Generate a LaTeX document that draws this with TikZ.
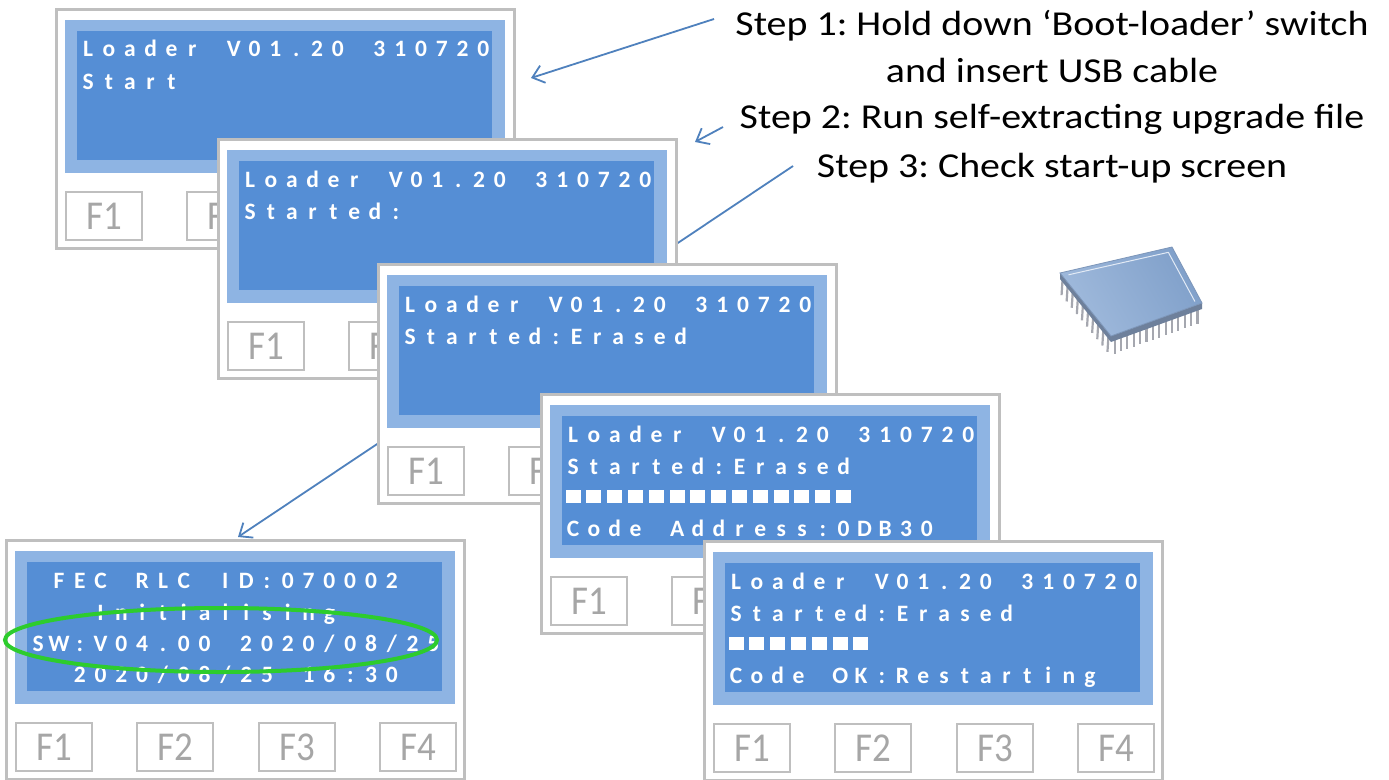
\documentclass[tikz,border=0pt]{standalone}
\usepackage{fontspec}
\setmainfont{Carlito}
\newfontfamily\lcdfont{Carlito}
\newfontfamily\stepfont{Carlito}[FakeStretch=1.14]
\newfontfamily\keyfont{Carlito}[FakeStretch=0.9]
\usetikzlibrary{arrows.meta,shapes.geometric,calc}
\frenchspacing

\definecolor{lcdDark}{RGB}{85,142,213}
\definecolor{lcdLight}{RGB}{142,180,227}
\definecolor{frameGray}{RGB}{191,191,191}
\definecolor{keyText}{RGB}{166,166,166}
\definecolor{arrowBlue}{RGB}{79,129,189}
\definecolor{ringGreen}{RGB}{45,204,45}
\definecolor{chipA}{RGB}{160,186,220}
\definecolor{chipB}{RGB}{128,160,202}
\definecolor{chipSide}{RGB}{110,128,155}
\definecolor{chipEdge}{RGB}{125,150,185}
\definecolor{pinGray}{RGB}{165,167,175}

% fixed-pitch character cells for the LCD rows (~ stands for a blank cell)
\newlength\lcdpitch
\setlength\lcdpitch{20.8pt}
\def\lcdstop{LCDSTOP}
\newcommand\lcdchars[1]{\lcdnext#1\lcdstop}
\def\lcdnext#1{\ifx#1\lcdstop\else\makebox[\lcdpitch][c]{#1}\expandafter\lcdnext\fi}

\tikzset{
  panelframe/.style={anchor=north west, draw=frameGray, line width=2.5pt, fill=white,
    minimum width=458pt, minimum height=239pt, inner sep=0pt},
  bezel/.style={anchor=north west, fill=lcdLight, minimum width=440pt, minimum height=153pt, inner sep=0pt},
  glass/.style={anchor=north west, fill=lcdDark, minimum width=415pt, minimum height=129pt, inner sep=0pt},
  fkey/.style={anchor=north west, draw=frameGray, line width=2pt, fill=white, text=keyText,
    minimum width=76pt, minimum height=48pt, inner sep=0pt, font=\keyfont\fontsize{41}{41}\selectfont},
  lcdtext/.style={anchor=base west, inner sep=0pt, text=white, font=\lcdfont\bfseries\fontsize{23.5}{23.5}\selectfont},
  steptext/.style={anchor=base, inner sep=0pt, font=\stepfont\fontsize{35}{35}\selectfont},
  steparrow/.style={draw=arrowBlue, line width=1.8pt, -{Straight Barb[length=11pt,width=18pt]}},
  ring/.style={ellipse, draw=ringGreen, line width=4pt, minimum width=432pt, minimum height=64pt, inner sep=0pt},
  pin/.style={draw=pinGray, line width=2.2pt},
}

% one row of LCD text: node name, baseline, characters
\newcommand\lcdrow[3]{\node[lcdtext] (#1) at (22.6,#2) {\lcdchars{#3}};}
% progress bar made of n solid cells on the third row
\newcommand\lcdblocks[1]{\foreach \b in {1,...,#1}{\fill[white] ({33+(\b-1)*20.8-7.5},97) rectangle ++(15,13);}}

% key positions (number/left edge)
\newcommand\allkeys{1/10,2/131,3/253,4/374}
\newcommand\frontkeys{1/10,2/131}

% complete display unit: name, x, y, key list macro, contents
\newcommand\lcdpanel[5]{%
  \begin{scope}[shift={(#2,#3)}]
    \node[panelframe] (#1) at (0,0) {};
    \node[bezel] (#1-bezel) at (10,12) {};
    \node[glass] (#1-glass) at (22,23) {};
    \foreach \k/\kx in #4 {
      \node[fkey] (#1-f\k) at (\kx,183) {F\k};
    }
    #5
  \end{scope}}

\begin{document}
\begin{tikzpicture}[x=1pt,y=-1pt]
\fill[white] (0,0) rectangle (1389,779);
\useasboundingbox (0,0) rectangle (1389,779);

% step instructions
\node[steptext] (s1a) at (1052,35) {Step 1: Hold down ‘Boot-loader’ switch};
\node[steptext] (s1b) at (1052,82) {and insert USB cable};
\node[steptext] (s2) at (1052,128) {Step 2: Run self-extracting upgrade file};
\node[steptext] (s3) at (1052,177) {Step 3: Check start-up screen};

% step 3 pointer runs behind the stacked displays
\coordinate (a3s) at (793,166);
\coordinate (a3e) at (238,537);
\draw[steparrow] (a3s) -- (a3e);

\lcdpanel{p1}{55}{8}{\frontkeys}{%
  \lcdrow{p1-r1}{48}{Loader~V01.20~310720}
  \lcdrow{p1-r2}{81}{Start}}
\lcdpanel{p2}{217}{138}{\frontkeys}{%
  \lcdrow{p2-r1}{49.5}{Loader~V01.20~310720}
  \lcdrow{p2-r2}{81}{Started:}}
\lcdpanel{p3}{377}{263}{\frontkeys}{%
  \lcdrow{p3-r1}{49.5}{Loader~V01.20~310720}
  \lcdrow{p3-r2}{81}{Started:Erased}}
\lcdpanel{p4}{540}{393}{\frontkeys}{%
  \lcdrow{p4-r1}{49.5}{Loader~V01.20~310720}
  \lcdrow{p4-r2}{81}{Started:Erased}
  \lcdblocks{14}
  \lcdrow{p4-r4}{143.5}{Code~Address:0DB30}}
\lcdpanel{p5}{703}{540}{\allkeys}{%
  \lcdrow{p5-r1}{49.5}{Loader~V01.20~310720}
  \lcdrow{p5-r2}{81}{Started:Erased}
  \lcdblocks{7}
  \lcdrow{p5-r4}{143.5}{Code~OK:Restarting}}
\lcdpanel{p6}{5}{539}{\allkeys}{%
  \lcdrow{p6-r1}{49.5}{~FEC~RLC~ID:070002}
  \lcdrow{p6-r2}{81}{~~~Initialising}
  \lcdrow{p6-r3}{112}{SW:V04.00~2020/08/25}
  \lcdrow{p6-r4}{143.5}{~~2020/08/25~16:30}}

% highlight of the software version
\node[ring] (ring) at (221,640) {};

% step 1 and step 2 pointers
\coordinate (a1s) at (714,19);
\coordinate (a1e) at (531,78);
\draw[steparrow] (a1s) -- (a1e);
\coordinate (a2s) at (723,127);
\coordinate (a2e) at (695,142);
\draw[steparrow] (a2s) -- (a2e);

% microcontroller chip
\coordinate (cL) at (1060,273);
\coordinate (cT) at (1172,247);
\coordinate (cR) at (1202,303);
\coordinate (cB) at (1111,336);
\foreach \t in {0.05,0.15,...,0.96}
  \draw[pin] ($(cL)!\t!(cB)+(0,3)$) -- ++(-1,16);
\foreach \t in {0.04,0.11,...,0.99}
  \draw[pin] ($(cB)!\t!(cR)+(0,3)$) -- ++(0,16);
\fill[chipSide] (cL) -- (cB) -- (cR) -- ($(cR)+(0,6)$) -- ($(cB)+(0,6)$) -- ($(cL)+(0,6)$) -- cycle;
\shade[left color=chipA, middle color=white!90!chipA, right color=chipB, shading angle=120]
  (cL) -- (cT) -- (cR) -- (cB) -- cycle;
\draw[chipEdge, line width=0.8pt] (cL) -- (cT) -- (cR) -- (cB) -- cycle;
\draw[white!70!chipA, line width=1pt] ($(cL)!0.06!(cR)$) -- ($(cT)!0.06!(cB)$) -- ($(cR)!0.05!(cL)$);
\end{tikzpicture}
\end{document}
